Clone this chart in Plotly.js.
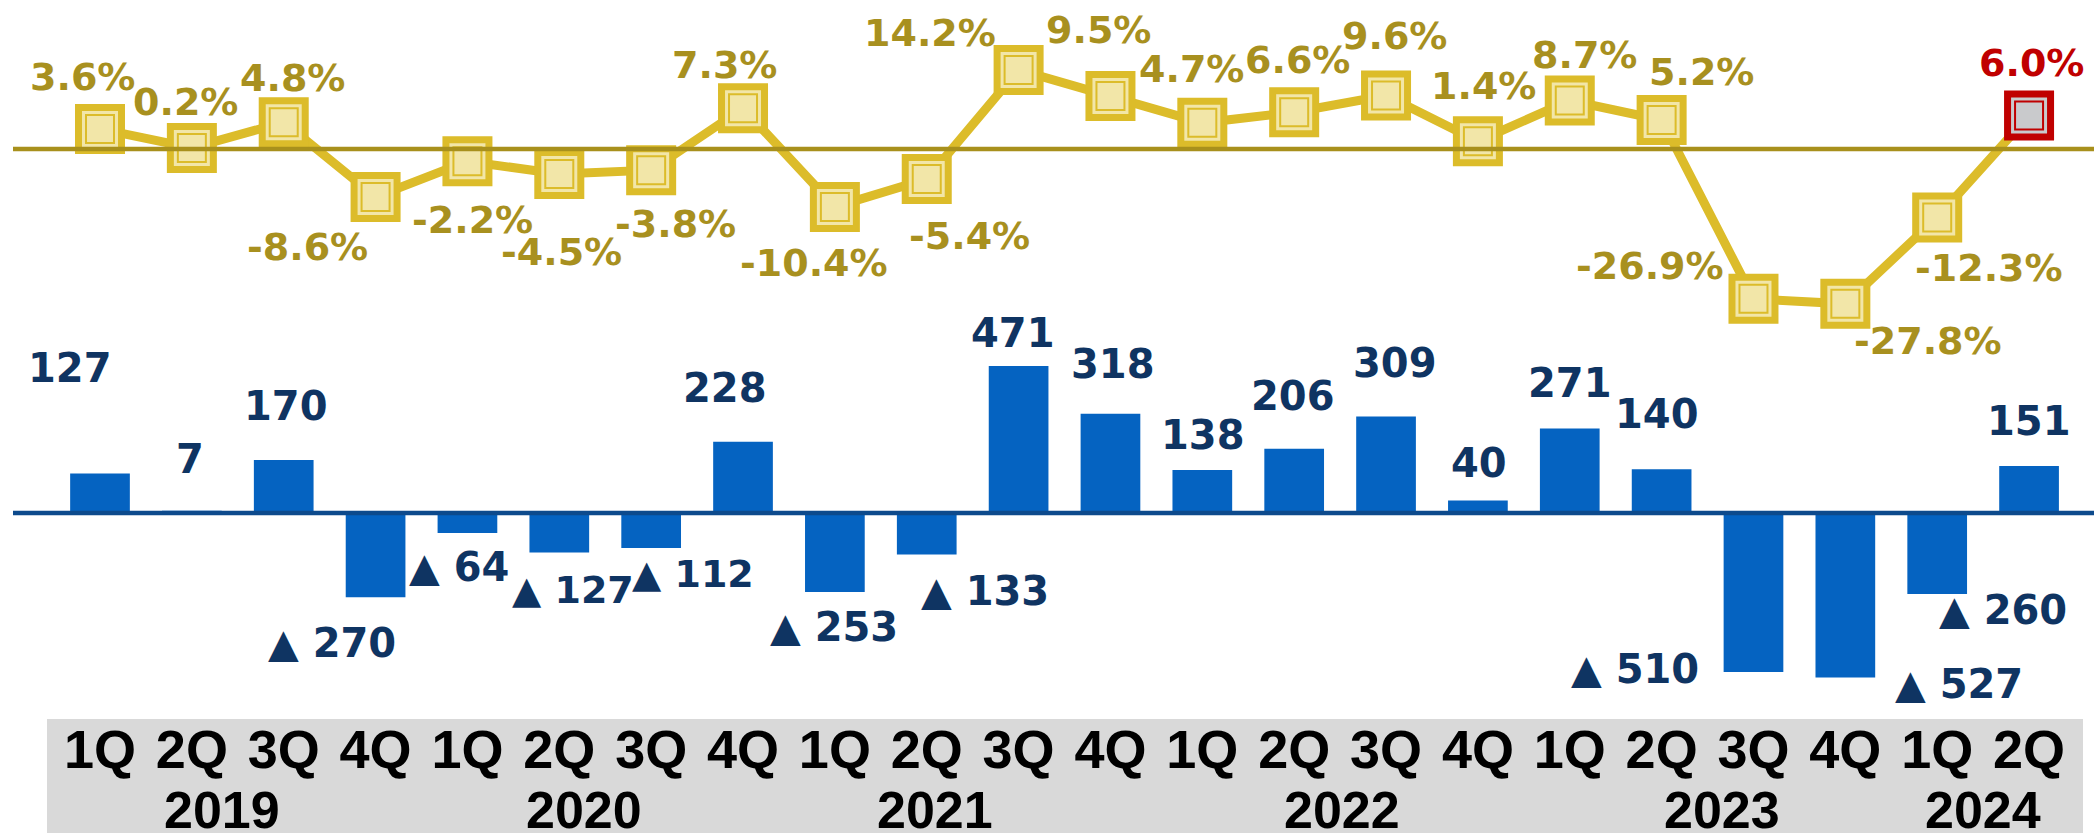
<!DOCTYPE html>
<html>
<head>
<meta charset="utf-8">
<script src="https://cdn.plot.ly/plotly-3.0.1.min.js"></script>
<style>
  html, body { margin: 0; padding: 0; background: #ffffff; }
  #chart { width: 2094px; height: 833px; }
</style>
</head>
<body>
<div id="chart"></div>
<script>
// ---- data ----
const quarters = ['1Q','2Q','3Q','4Q','1Q','2Q','3Q','4Q','1Q','2Q','3Q','4Q','1Q','2Q','3Q','4Q','1Q','2Q','3Q','4Q','1Q','2Q'];
const years = ['2019','2020','2021','2022','2023','2024'];
const profit = [127, 7, 170, -270, -64, -127, -112, 228, -253, -133, 471, 318, 138, 206, 309, 40, 271, 140, -510, -527, -260, 151];
const growth = [3.6, 0.2, 4.8, -8.6, -2.2, -4.5, -3.8, 7.3, -10.4, -5.4, 14.2, 9.5, 4.7, 6.6, 9.6, 1.4, 8.7, 5.2, -26.9, -27.8, -12.3, 6.0];

// ---- layout helpers (positions / styles) ----
const yearPos = [1.33, 5.27, 9.09, 13.52, 17.66, 20.5];
const barLabelOff = [[-30,-105],[-2,-52],[2,-54],[-44,46],[-8,34],[14,37],[42,26],[-18,-54],[-1,35],[58,36],[-6,-33],[3,-50],[1,-35],[-1,-53],[9,-54],[1,-38],[0,-45],[-5,-55],[-118,-3],[114,7],[66,16],[0,-45]];
const barLabelSize = [40,40,40,40,40,38,38,40,40,40,40,40,40,40,40,40,40,40,40,40,40,40];
const lineLabelOff = [[-18,-52],[-6,-46],[9,-44],[-68,50],[5,59],[2,78],[24,54],[-19,-43],[-21,56],[43,57],[-89,-37],[-12,-66],[-11,-54],[3,-52],[8,-60],[6,-55],[15,-46],[40,-48],[-103,-33],[83,37],[52,50],[2,-53]];

const idx = quarters.map((q, i) => i);
const n = idx.length;
const last = n - 1;

const GOLD = '#dcbc2a', CREAM = '#f2e6a8', RED = '#c00000', GREY = '#c9cacc';
const edgeColors = idx.map(i => i === last ? RED : GOLD);
const fillColors = idx.map(i => i === last ? GREY : CREAM);

const traces = [
  {
    type: 'bar', x: idx, y: profit, width: 0.65,
    marker: { color: '#0563c1', line: { width: 0 } },
    hoverinfo: 'skip', yaxis: 'y'
  },
  {
    type: 'scatter', mode: 'lines+markers', x: idx, y: growth, yaxis: 'y2',
    line: { color: GOLD, width: 9 },
    marker: { symbol: 'square', size: 43, color: fillColors, line: { color: edgeColors, width: 7 } },
    cliponaxis: false, hoverinfo: 'skip'
  },
  {
    type: 'scatter', mode: 'markers', x: idx, y: growth, yaxis: 'y2',
    marker: { symbol: 'square', size: 28, color: fillColors, line: { color: edgeColors, width: 2 } },
    cliponaxis: false, hoverinfo: 'skip'
  }
];

const W = 2094, H = 833, B = 114, PH = H - B;

const annotations = [];
profit.forEach((v, i) => {
  const txt = v < 0 ? '\u25B2 ' + Math.abs(v) : String(v);
  annotations.push({
    x: i, y: v, xref: 'x', yref: 'y', text: '<b>' + txt + '</b>', showarrow: false,
    xanchor: 'center', yanchor: 'middle',
    xshift: barLabelOff[i][0], yshift: -barLabelOff[i][1],
    font: { family: 'DejaVu Sans, Verdana, sans-serif', size: barLabelSize[i], color: '#0f3462' }
  });
});
growth.forEach((v, i) => {
  annotations.push({
    x: i, y: v, xref: 'x', yref: 'y2', text: '<b>' + v.toFixed(1) + '%</b>', showarrow: false,
    xanchor: 'center', yanchor: 'middle',
    xshift: lineLabelOff[i][0], yshift: -lineLabelOff[i][1],
    font: { family: 'DejaVu Sans, Verdana, sans-serif', size: 38, color: i === last ? RED : '#a8901f' }
  });
});
years.forEach((yr, k) => {
  annotations.push({
    x: yearPos[k], y: -(810 - PH) / PH, xref: 'x', yref: 'paper', text: '<b>' + yr + '</b>', showarrow: false,
    xanchor: 'center', yanchor: 'middle',
    font: { family: 'Liberation Sans, Arial, sans-serif', size: 52, color: '#000000' }
  });
});

const pxPerCat = 91.86, firstX = 100;
const x0 = -firstX / pxPerCat, x1 = x0 + W / pxPerCat;
const barZero = 513, barK = 0.312;
const yTop = barZero / barK, yBot = yTop - PH / barK;
const lineZero = 149, lineK = 5.57;
const y2Top = lineZero / lineK, y2Bot = y2Top - PH / lineK;

const layout = {
  width: W, height: H,
  margin: { l: 0, r: 0, t: 0, b: B, pad: 0 },
  paper_bgcolor: '#ffffff', plot_bgcolor: 'rgba(0,0,0,0)',
  showlegend: false,
  bargap: 0.35,
  xaxis: {
    range: [x0, x1], tickmode: 'array', tickvals: idx,
    ticktext: quarters.map(q => '<b>' + q + '</b>'),
    tickfont: { family: 'Liberation Sans, Arial, sans-serif', size: 54, color: '#000000' },
    ticklabelstandoff: -6,
    showgrid: false, zeroline: false, showline: false, ticks: '', fixedrange: true
  },
  yaxis: { range: [yBot, yTop], visible: false, fixedrange: true },
  yaxis2: { range: [y2Bot, y2Top], overlaying: 'y', visible: false, fixedrange: true },
  shapes: [
    { type: 'rect', xref: 'paper', yref: 'paper', x0: 47 / W, x1: 2083 / W, y0: -B / PH, y1: 0,
      fillcolor: '#d9d9d9', line: { width: 0 }, layer: 'below' },
    { type: 'line', xref: 'paper', yref: 'y', x0: 13 / W, x1: 1, y0: 0, y1: 0,
      line: { color: '#0d4a8c', width: 4.5 }, layer: 'above' },
    { type: 'line', xref: 'paper', yref: 'y2', x0: 13 / W, x1: 1, y0: 0, y1: 0,
      line: { color: '#a8901c', width: 4.5 }, layer: 'above' }
  ],
  annotations: annotations
};

Plotly.newPlot('chart', traces, layout, { staticPlot: true, displayModeBar: false });
</script>
</body>
</html>
